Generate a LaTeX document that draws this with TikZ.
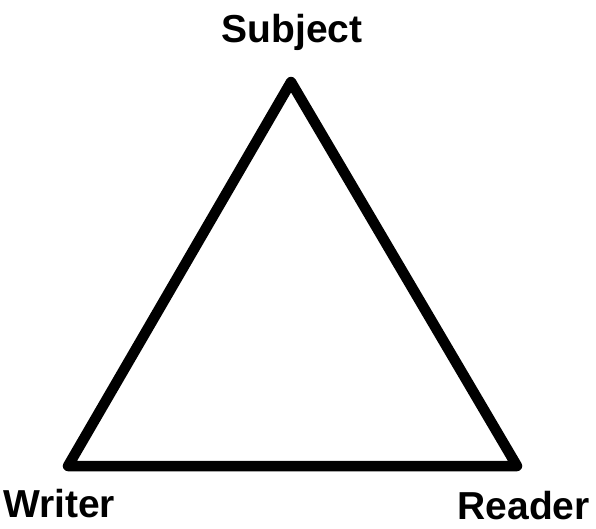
\documentclass[tikz,border=0pt]{standalone}
\usepackage{fontspec}
\setmainfont{Liberation Sans}
\begin{document}
\begin{tikzpicture}[x=1pt,y=-1pt,
  lbl/.style={font=\fontsize{39}{43}\selectfont\bfseries, inner sep=0pt},
  edge/.style={line width=10.5pt, line join=round, draw=black}]
\useasboundingbox (0,0) rectangle (596,528);
\coordinate (S) at (291,82);
\coordinate (W) at (68,466);
\coordinate (R) at (517,466);
\draw[edge] (S) -- (R) -- (W) -- cycle;
\node[lbl] (subj) at (292,32) {Subject};
\node[lbl, anchor=west] (wri) at (3,504) {Writer};
\node[lbl, anchor=east] (rea) at (590,506) {Reader};
\end{tikzpicture}
\end{document}
